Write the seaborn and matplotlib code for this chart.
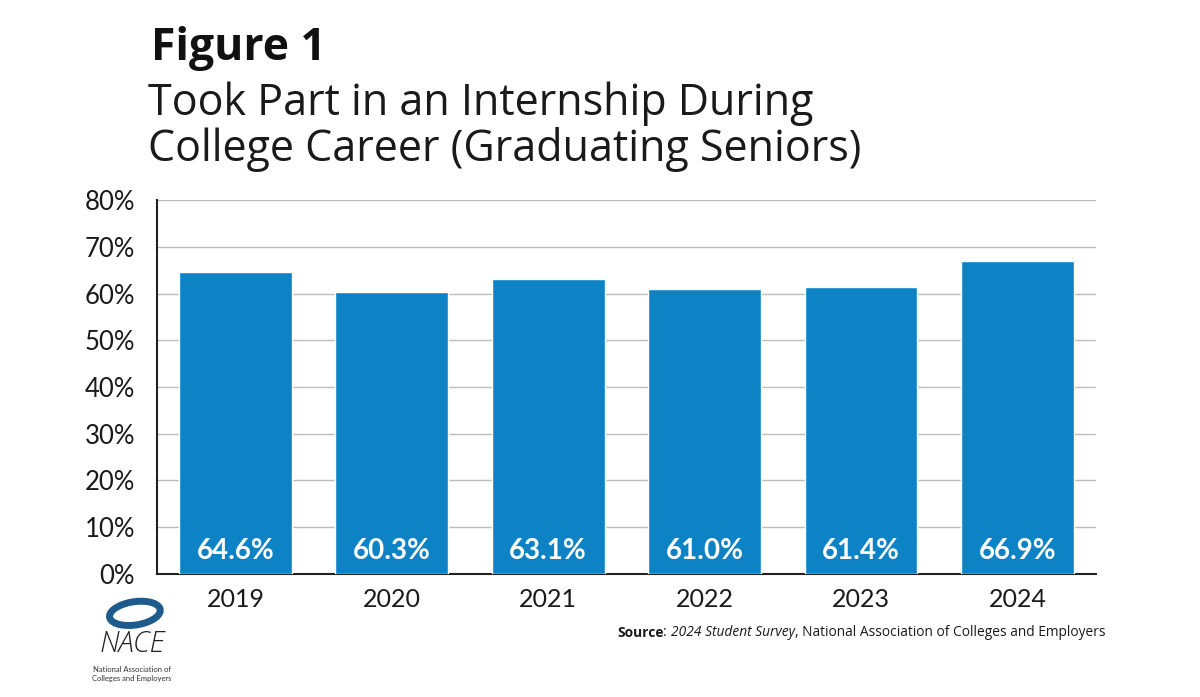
import numpy as np
import pandas as pd
import matplotlib
matplotlib.use("Agg")
import matplotlib.pyplot as plt
import seaborn as sns
from matplotlib.patches import Ellipse

# data
years = ["2019", "2020", "2021", "2022", "2023", "2024"]
values = [64.6, 60.3, 63.1, 61.0, 61.4, 66.9]
y_ticks = [0, 10, 20, 30, 40, 50, 60, 70, 80]

df = pd.DataFrame({"year": years, "pct": values})

sns.set_theme(style="white")
plt.rcParams["font.family"] = ["Lato", "DejaVu Sans"]
txt_font = ["Open Sans", "DejaVu Sans"]

fig = plt.figure(figsize=(12, 6.97), dpi=100)
ax = fig.add_axes([0.131, 0.1765, 0.782, 0.5365])

sns.barplot(data=df, x="year", y="pct", color="#0d83c5", width=0.72,
            saturation=1, ax=ax, zorder=3)

ax.set_ylim(0, 80)
ax.set_yticks(y_ticks)
ax.set_yticklabels([f"{t}%" for t in y_ticks], fontsize=18.5, color="#1a1a1a")
ax.tick_params(axis="x", labelsize=18, colors="#1a1a1a", length=0, pad=10)
ax.tick_params(axis="y", length=0, pad=16)
ax.set_xlabel("")
ax.set_ylabel("")
ax.yaxis.grid(True, color="#bdbdbd", linewidth=1, zorder=0)
ax.set_axisbelow(True)
for s in ["top", "right"]:
    ax.spines[s].set_visible(False)
for s in ["left", "bottom"]:
    ax.spines[s].set_color("#222222")
    ax.spines[s].set_linewidth(1.5)

for i, v in enumerate(values):
    ax.text(i, 5, f"{v:.1f}%", ha="center", va="center", color="white",
            fontsize=20, fontweight="bold", zorder=4)

# titles
fig.text(0.126, 0.93, "Figure 1", fontsize=32, fontweight="bold",
         family=txt_font, ha="left", va="center", color="#111111")
fig.text(0.123, 0.818, "Took Part in an Internship During\nCollege Career (Graduating Seniors)",
         fontsize=31, family=txt_font, ha="left", va="center",
         linespacing=1.05, color="#1a1a1a")

# source line, pieces placed one after another
fig.canvas.draw()
renderer = fig.canvas.get_renderer()
x = 617 / 1200
parts = [("Source", "bold", "normal"), (": ", "normal", "normal"),
         ("2024 Student Survey", "normal", "italic"),
         (", National Association of Colleges and Employers", "normal", "normal")]
for s, w, st in parts:
    t = fig.text(x, 0.092, s, fontsize=9.9, fontweight=w, style=st,
                 family=txt_font, ha="left", va="center", color="#1a1a1a")
    bb = t.get_window_extent(renderer)
    x += bb.width / 1200

# logo
lax = fig.add_axes([0.05, 0.0, 0.12, 0.15])
lax.set_xlim(0, 1)
lax.set_ylim(0, 1)
lax.axis("off")
lax.add_patch(Ellipse((0.52, 0.8), 0.36, 0.22, angle=15, facecolor="none",
                      edgecolor="#1d5b8c", linewidth=5))
lax.text(0.5, 0.5, "NACE", ha="center", va="center", fontsize=21,
         family=txt_font, fontweight="light", style="italic", color="#222222")
lax.text(0.5, 0.22, "National Association of\nColleges and Employers", ha="center",
         va="center", fontsize=5.5, color="#333333", linespacing=1.2)

fig.savefig("out.png", dpi=100)
